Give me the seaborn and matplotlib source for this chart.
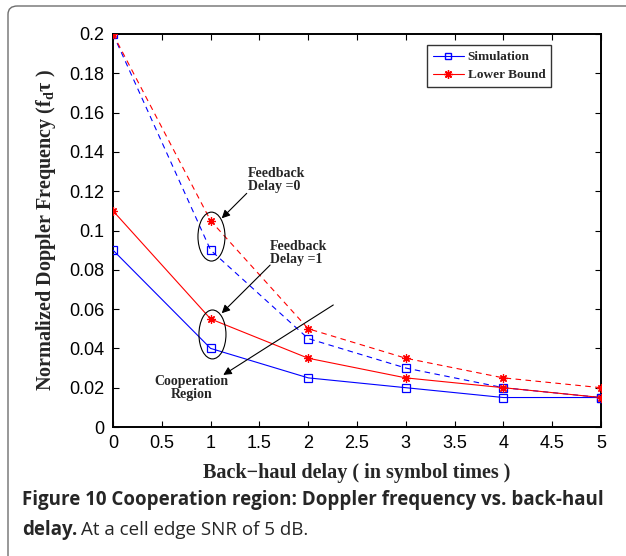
import numpy as np
import pandas as pd
import matplotlib
matplotlib.use("Agg")
import matplotlib.pyplot as plt
import seaborn as sns
from matplotlib.patches import Ellipse, FancyBboxPatch
from matplotlib.lines import Line2D

# ---- data ----
delay = [0, 1, 2, 3, 4, 5]
sim_fb0 = [0.2, 0.09, 0.045, 0.03, 0.02, 0.015]
lb_fb0 = [0.2, 0.105, 0.05, 0.035, 0.025, 0.02]
sim_fb1 = [0.09, 0.04, 0.025, 0.02, 0.015, 0.015]
lb_fb1 = [0.11, 0.055, 0.035, 0.025, 0.02, 0.015]
xticks = [0, 0.5, 1, 1.5, 2, 2.5, 3, 3.5, 4, 4.5, 5]
yticks = [0, 0.02, 0.04, 0.06, 0.08, 0.1, 0.12, 0.14, 0.16, 0.18, 0.2]
ytick_labels = ["0", "0.02", "0.04", "0.06", "0.08", "0.1", "0.12", "0.14", "0.16", "0.18", "0.2"]
xtick_labels = ["0", "0.5", "1", "1.5", "2", "2.5", "3", "3.5", "4", "4.5", "5"]

sns.set_theme(style="white")
plt.rcParams["font.family"] = ["Liberation Sans", "DejaVu Sans"]

W, H = 626, 556
fig = plt.figure(figsize=(W / 100, H / 100), dpi=100)
ax = fig.add_axes([113 / W, 1 - 427 / H, (601 - 113) / W, (427 - 34) / H])

BLUE = "#0000ff"
RED = "#ff0000"
ast = (8, 2, 0)

def draw(y, color, marker, ls, ms):
    df = pd.DataFrame({"x": delay, "y": y})
    sns.lineplot(data=df, x="x", y="y", ax=ax, color=color, lw=0.8, linestyle=ls,
                 marker=marker, markersize=ms, markerfacecolor="none" if marker == "s" else color,
                 markeredgecolor=color, markeredgewidth=0.9, legend=False, zorder=3)

draw(sim_fb0, BLUE, "s", (0, (5, 4)), 5.5)
draw(lb_fb0, RED, ast, (0, (5, 4)), 6)
draw(sim_fb1, BLUE, "s", "-", 5.5)
draw(lb_fb1, RED, ast, "-", 6)

ax.set_xlim(0, 5)
ax.set_ylim(0, 0.2)
ax.set_xticks(xticks)
ax.set_xticklabels(xtick_labels)
ax.set_yticks(yticks)
ax.set_yticklabels(ytick_labels)
ax.tick_params(direction="in", length=4, width=0.8, labelsize=13, colors="black",
               top=True, right=True, bottom=True, left=True, pad=6)
for s in ax.spines.values():
    s.set_visible(True)
    s.set_color("black")
    s.set_linewidth(1.4)
ax.set_facecolor("white")

serif_bold = dict(family=["Liberation Serif", "DejaVu Serif"], weight="bold", size=14.5)
ax.set_xlabel("Back\u2212haul delay ( in symbol times )", labelpad=8, **serif_bold)
ax.set_ylabel("Normalized Doppler Frequency (f$_\\mathregular{d}$\u03c4 )", labelpad=8, **serif_bold)

# legend
handles = [Line2D([], [], color=BLUE, lw=0.8, marker="s", markersize=5, markerfacecolor="none", markeredgecolor=BLUE),
           Line2D([], [], color=RED, lw=0.8, marker=ast, markersize=6, markeredgecolor=RED)]
leg = ax.legend(handles, ["Simulation", "Lower Bound"], loc="upper right",
                bbox_to_anchor=(0.898, 0.972), borderaxespad=0, frameon=True, fancybox=False,
                prop=dict(family="Liberation Serif", weight="bold", size=9.5),
                handlelength=2.3, borderpad=0.45, labelspacing=0.45, handletextpad=0.3)
leg.get_frame().set_edgecolor("black")
leg.get_frame().set_linewidth(1.0)

# annotations
ann_font = dict(family=["Liberation Serif"], weight="bold", size=10)
ax.add_patch(Ellipse((1.009, 0.0969), 0.277, 0.0249, fill=False, ec="black", lw=0.8, zorder=4))
ax.add_patch(Ellipse((1.019, 0.0471), 0.277, 0.0249, fill=False, ec="black", lw=0.8, zorder=4))
arrow = dict(arrowstyle="-|>", color="black", lw=0.8, mutation_scale=12, shrinkA=0, shrinkB=0)
ax.annotate("", xy=(1.114, 0.1062), xytext=(1.37, 0.1189), arrowprops=arrow)
ax.annotate("", xy=(1.114, 0.0579), xytext=(1.61, 0.0824), arrowprops=arrow)
ax.annotate("", xy=(1.13, 0.0265), xytext=(2.257, 0.0621), arrowprops=arrow)
ax.text(1.38, 0.1257, "Feedback\nDelay =0", ha="left", va="center", linespacing=1.0, **ann_font)
ax.text(1.61, 0.0885, "Feedback\nDelay =1", ha="left", va="center", linespacing=1.0, **ann_font)
ax.text(0.806, 0.0198, "Cooperation\nRegion", ha="center", va="center", linespacing=1.0, **ann_font)

# outer frame
frame = FancyBboxPatch((8 / W, -0.2), 1.2, 1.2 - 6 / H, boxstyle="round,pad=0,rounding_size=0.015",
                       transform=fig.transFigure, fill=False, ec="#6e6e6e", lw=1.0)
fig.patches.append(frame)

# caption
cap = dict(family=["Open Sans", "DejaVu Sans"], size=13.5)
fig.text(22 / W, 1 - 500 / H, "Figure 10 Cooperation region: Doppler frequency vs. back-haul",
         ha="left", va="center", weight="bold", **cap)
t1 = fig.text(22 / W, 1 - 530 / H, "delay.", ha="left", va="center", weight="bold", **cap)
fig.canvas.draw()
bb = t1.get_window_extent()
fig.text((bb.x1 + 4) / W, 1 - 530 / H, "At a cell edge SNR of 5 dB.", ha="left", va="center",
         weight="normal", **cap)

fig.savefig("out.png", dpi=100, facecolor="white")
